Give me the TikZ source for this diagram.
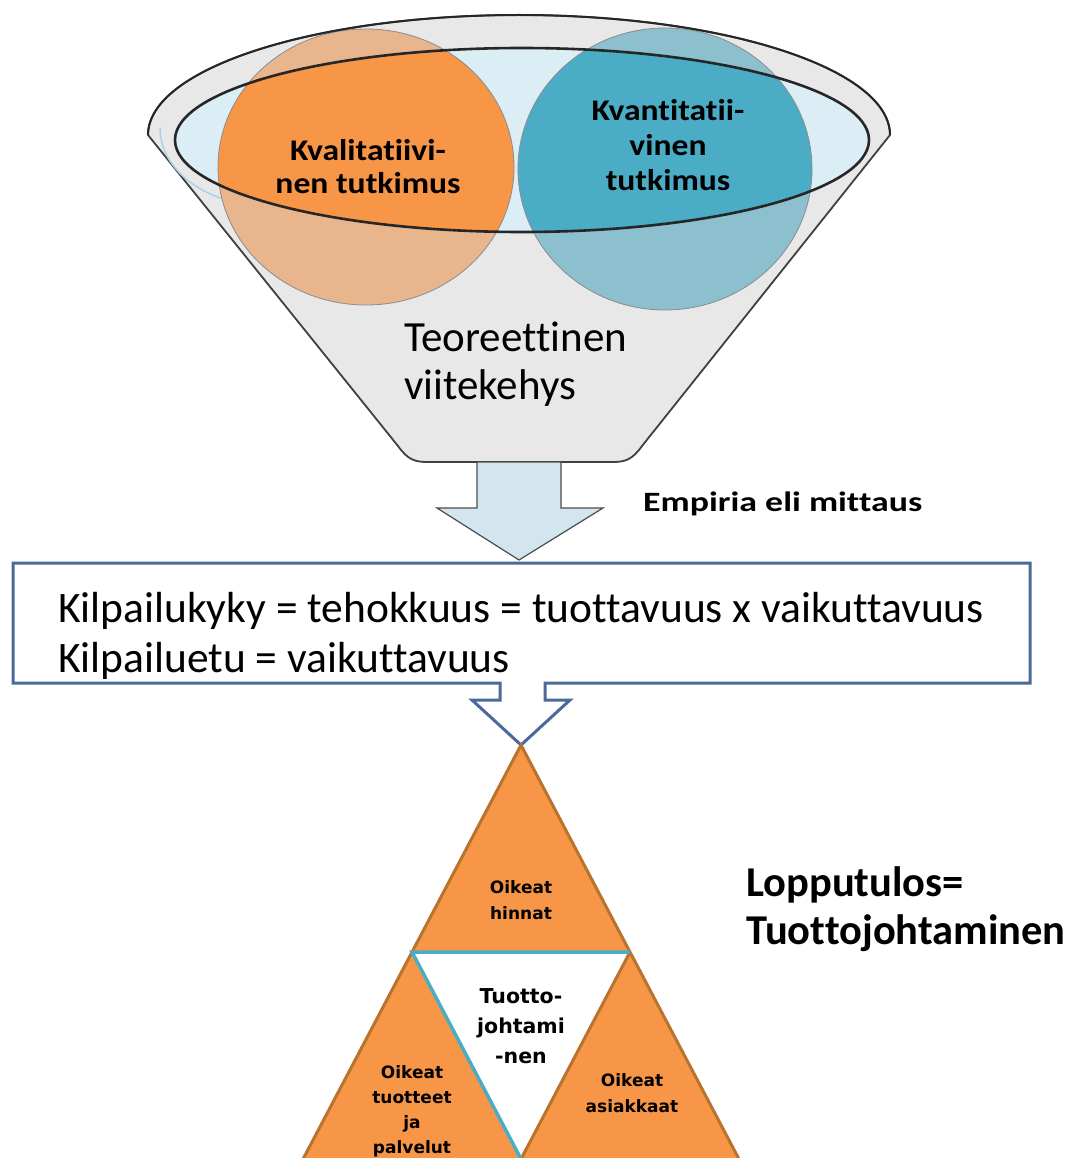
\documentclass[tikz,border=0pt]{standalone}
\usepackage{fontspec}
\usepackage{graphicx}
\setmainfont{Carlito}[Ligatures=NoCommon]
\newfontfamily\carlitowide{Carlito}[Ligatures=NoCommon, FakeStretch=1.12]
\newfontfamily\carlitoxwide{Carlito}[Ligatures=NoCommon, FakeStretch=1.28]
\newfontfamily\verd{DejaVu Sans}
\definecolor{orangeT}{HTML}{F79646}
\definecolor{orangeL}{HTML}{E9B58C}
\definecolor{tealT}{HTML}{4BACC6}
\definecolor{tealL}{HTML}{8DC0CE}
\definecolor{rimblue}{HTML}{DCEEF5}
\definecolor{funnelgray}{HTML}{E8E8E8}
\definecolor{boxblue}{HTML}{4A6A9A}
\definecolor{triedge}{HTML}{B8732F}
\definecolor{triblue}{HTML}{4BACC6}
\definecolor{arrowfill}{HTML}{D3E5EE}
\definecolor{highlight}{HTML}{A9D3E6}
\begin{document}
\begin{tikzpicture}[x=1pt,y=-1pt,
  funnelbody/.style={fill=funnelgray, draw=black!75, line width=1.8pt, line join=round},
  rimline/.style={draw=black!85, line width=2.6pt},
  circedge/.style={draw=black!45, line width=0.8pt},
  downarrow/.style={fill=arrowfill, draw=black!70, line width=1.2pt, line join=miter},
  callout/.style={fill=white, draw=boxblue, line width=3pt, line join=miter},
  tri/.style={draw=triedge, line width=3pt, line join=miter},
  triin/.style={draw=triblue, line width=3.5pt},
  label/.style={inner sep=0pt, align=center, text=black},
  ltext/.style={inner sep=0pt, align=left, text=black}
]
\clip (0,0) rectangle (1075,1158);
\fill[white] (0,0) rectangle (1075,1158);

% funnel body
\path[funnelbody] (148,135) arc[start angle=180, end angle=360, x radius=371, y radius=120]
  -- (642,446) .. controls (632,460) and (625,462) .. (612,462) -- (428,462)
  .. controls (415,462) and (408,460) .. (398,446) -- cycle;
\draw[highlight, line width=1.5pt] (160,128) .. controls (160,165) and (195,192) .. (228,200);
\fill[rimblue] (522,140) ellipse[x radius=347, y radius=92];

% circles
\fill[orangeL] (366,167) ellipse[x radius=148, y radius=138];
\fill[tealL] (665,169) ellipse[x radius=147, y radius=141];
\begin{scope}
  \clip (522,140) ellipse[x radius=347, y radius=92];
  \fill[orangeT] (366,167) ellipse[x radius=148, y radius=138];
  \fill[tealT] (665,169) ellipse[x radius=147, y radius=141];
\end{scope}
\path[circedge] (366,167) ellipse[x radius=148, y radius=138];
\path[circedge] (665,169) ellipse[x radius=147, y radius=141];

% rim outlines
\path[rimline] (522,140) ellipse[x radius=347, y radius=92];
\draw[black!85, line width=2pt] (148,135) arc[start angle=180, end angle=360, x radius=371, y radius=120];

\node[label, font=\carlitowide\bfseries\fontsize{30}{33}\selectfont] (kval) at (368,167) {Kvalitatiivi-\\nen tutkimus};
\node[label, font=\carlitowide\bfseries\fontsize{30}{35}\selectfont] (kvan) at (668,145) {Kvantitatii-\\vinen\\tutkimus};
\node[ltext, anchor=west, font=\fontsize{43}{48}\selectfont] (teo) at (404,364) {Teoreettinen\\viitekehys};

% down arrow from funnel
\path[downarrow] (477,462) -- (477,508) -- (437,508) -- (519,560) -- (603,508) -- (561,508) -- (561,462) -- cycle;
\node[ltext, anchor=west, font=\carlitoxwide\bfseries\fontsize{28}{30}\selectfont] (emp) at (643,504) {Empiria eli mittaus};

% callout box
\path[callout] (13,563) -- (1030,563) -- (1030,683) -- (545,683) -- (545,700) -- (570,700)
  -- (521,745) -- (472,700) -- (500,700) -- (500,683) -- (13,683) -- cycle;
\node[ltext, anchor=west, font=\fontsize{43.5}{50}\selectfont] (kil) at (58,636)
  {Kilpailukyky = tehokkuus = tuottavuus x vaikuttavuus\\Kilpailuetu = vaikuttavuus};

% triangle
\coordinate (A) at (521,745);
\coordinate (L) at (412,952);
\coordinate (R) at (630,952);
\coordinate (M) at (521,1159);
\coordinate (BL) at (292,1180);
\coordinate (BR) at (750,1180);
\fill[orangeT] (A) -- (BL) -- (BR) -- cycle;
\path[tri] (BL) -- (A) -- (BR);
\fill[white] (L) -- (R) -- (M) -- cycle;
\path[tri] (R) -- (M);
\path[triin] (M) -- (L) -- (R);

\node[label, font=\verd\bfseries\fontsize{17}{26}\selectfont] (hin) at (521,900) {Oikeat\\hinnat};
\node[label, font=\verd\bfseries\fontsize{20.5}{30}\selectfont] (tjo) at (521,1026) {Tuotto-\\johtami\\-nen};
\node[label, font=\verd\bfseries\fontsize{17}{25}\selectfont] (tuo) at (412,1111) {Oikeat\\tuotteet\\ja\\palvelut};
\node[label, font=\verd\bfseries\fontsize{17}{26}\selectfont] (asi) at (632,1093) {Oikeat\\asiakkaat};

\node[ltext, anchor=west, font=\bfseries\fontsize{42.5}{48}\selectfont] (lop) at (746,909) {Lopputulos=\\Tuottojohtaminen};
\end{tikzpicture}
\end{document}
